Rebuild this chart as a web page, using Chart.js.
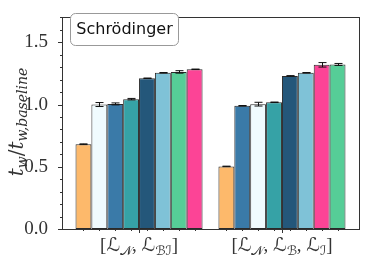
<!DOCTYPE html>
<html>
<head>
<meta charset="utf-8">
<script src="https://cdn.jsdelivr.net/npm/chart.js@4.4.1/dist/chart.umd.min.js"></script>
<style>
  html, body { margin: 0; padding: 0; background: #fff; }
  #wrap { width: 365px; height: 261px; }
</style>
</head>
<body>
<div id="wrap"><canvas id="grafica"></canvas></div>
<script>
// datos
var grupos = [0, 1];
var valoresG1 = [0.681, 1.000, 1.005, 1.043, 1.211, 1.255, 1.262, 1.283];
var valoresG2 = [0.503, 0.990, 1.003, 1.018, 1.230, 1.255, 1.319, 1.322];
var erroresG1 = [0.003, 0.016, 0.008, 0.006, 0.002, 0.002, 0.010, 0.002];
var erroresG2 = [0.002, 0.002, 0.015, 0.002, 0.002, 0.002, 0.018, 0.008];
var coloresG1 = ['#fdb96b', '#f0fbfe', '#3a7aa8', '#36a2a6', '#24577a', '#7fc2d7', '#56cd97', '#fc4496'];
var coloresG2 = ['#fdb96b', '#3a7aa8', '#f0fbfe', '#36a2a6', '#24577a', '#7fc2d7', '#fc4496', '#56cd97'];
var ticksY = [0, 0.5, 1.0, 1.5];
var nBarras = 8;
var anchoBarra = 1 / 9;

var datasets = [];
for (let k = 0; k < nBarras; k++) {
  datasets.push({
    data: [{x: grupos[0], y: valoresG1[k]}, {x: grupos[1], y: valoresG2[k]}],
    errores: [erroresG1[k], erroresG2[k]],
    backgroundColor: [coloresG1[k], coloresG2[k]],
    borderColor: '#2a2a2a',
    borderWidth: 1,
    borderSkipped: false
  });
}

// dibuja texto con subindices, partes = [{t, f, dy}]
function textoMath(ctx, partes, cx, cy) {
  let total = 0;
  partes.forEach(p => { ctx.font = p.f; p.w = ctx.measureText(p.t).width; total += p.w; });
  let x = cx - total / 2;
  ctx.textAlign = 'left';
  ctx.textBaseline = 'alphabetic';
  partes.forEach(p => { ctx.font = p.f; ctx.fillText(p.t, x, cy + (p.dy || 0)); x += p.w; });
}

var plugDecoracion = {
  id: 'decoracion',
  afterDatasetsDraw(chart) {
    const ctx = chart.ctx;
    const a = chart.chartArea;
    const sx = chart.scales.x, sy = chart.scales.y;
    ctx.save();
    // barras de error
    ctx.strokeStyle = '#111';
    ctx.lineWidth = 1;
    chart.data.datasets.forEach((ds, i) => {
      const meta = chart.getDatasetMeta(i);
      meta.data.forEach((bar, j) => {
        const v = ds.data[j].y, e = ds.errores[j];
        const x = Math.round(bar.x) + 0.5;
        const y1 = sy.getPixelForValue(v + e), y2 = sy.getPixelForValue(v - e);
        ctx.beginPath();
        ctx.moveTo(x, y1); ctx.lineTo(x, y2);
        ctx.moveTo(x - 4, y1); ctx.lineTo(x + 4, y1);
        ctx.moveTo(x - 4, y2); ctx.lineTo(x + 4, y2);
        ctx.stroke();
      });
    });
    // marco
    ctx.strokeStyle = '#333';
    ctx.strokeRect(Math.round(a.left) + 0.5, Math.round(a.top) + 0.5, Math.round(a.right - a.left), Math.round(a.bottom - a.top));
    // ticks eje y
    ctx.beginPath();
    for (let i = 0; i <= 17; i++) {
      const y = Math.round(sy.getPixelForValue(i / 10)) + 0.5;
      const largo = (i % 5 === 0) ? 4 : 2;
      ctx.moveTo(a.left, y); ctx.lineTo(a.left - largo, y);
    }
    // ticks eje x
    grupos.forEach(g => {
      const x = Math.round(sx.getPixelForValue(g)) + 0.5;
      ctx.moveTo(x, a.bottom); ctx.lineTo(x, a.bottom + 4);
      for (let k = 0; k < nBarras; k++) {
        const xm = Math.round(sx.getPixelForValue(g + (k - 3.5) * anchoBarra)) + 0.5;
        ctx.moveTo(xm, a.bottom); ctx.lineTo(xm, a.bottom + 2);
      }
    });
    ctx.stroke();
    // etiquetas eje x
    ctx.fillStyle = '#333';
    const fR = '19px "Liberation Serif"';
    const fS = '19px "DejaVu Sans"';
    const fSub = '13px "DejaVu Sans"';
    textoMath(ctx, [
      {t: '[', f: fR}, {t: 'ℒ', f: fS}, {t: '𝒩', f: fSub, dy: 4}, {t: ', ', f: fR},
      {t: 'ℒ', f: fS}, {t: 'ℬℐ', f: fSub, dy: 4}, {t: ']', f: fR}
    ], sx.getPixelForValue(0), 251);
    textoMath(ctx, [
      {t: '[', f: fR}, {t: 'ℒ', f: fS}, {t: '𝒩', f: fSub, dy: 4}, {t: ', ', f: fR},
      {t: 'ℒ', f: fS}, {t: 'ℬ', f: fSub, dy: 4}, {t: ', ', f: fR},
      {t: 'ℒ', f: fS}, {t: 'ℐ', f: fSub, dy: 4}, {t: ']', f: fR}
    ], sx.getPixelForValue(1), 251);
    // titulo eje y
    ctx.save();
    ctx.translate(23, 122);
    ctx.rotate(-Math.PI / 2);
    const fI = 'italic 20px "DejaVu Serif"';
    const fIs = 'italic 14px "DejaVu Serif"';
    textoMath(ctx, [
      {t: 't', f: fI}, {t: 'w', f: fIs, dy: 4}, {t: '/', f: '20px "DejaVu Serif"'},
      {t: 't', f: fI}, {t: 'w,baseline', f: fIs, dy: 4}
    ], 0, 0);
    ctx.restore();
    // cuadro de leyenda
    ctx.fillStyle = '#fff';
    ctx.strokeStyle = '#999';
    ctx.beginPath();
    ctx.roundRect(70.5, 13.5, 108, 32, 5);
    ctx.fill(); ctx.stroke();
    ctx.fillStyle = '#111';
    ctx.font = '16px "DejaVu Sans"';
    ctx.textAlign = 'center';
    ctx.textBaseline = 'middle';
    ctx.fillText('Schrödinger', 124.5, 30);
    ctx.restore();
  }
};

new Chart(document.getElementById('grafica'), {
  type: 'bar',
  data: { datasets: datasets },
  options: {
    responsive: true,
    maintainAspectRatio: false,
    animation: false,
    categoryPercentage: 8 / 9,
    barPercentage: 1,
    layout: { padding: { top: 6, right: 6, left: 0, bottom: 0 } },
    plugins: { legend: { display: false }, tooltip: { enabled: false } },
    scales: {
      x: {
        type: 'linear',
        min: -0.539,
        max: 1.539,
        offset: false,
        grid: { display: false },
        border: { display: false },
        ticks: { display: false },
        afterBuildTicks: s => { s.ticks = grupos.map(g => ({value: g})); },
        afterFit: s => { s.height = 32; }
      },
      y: {
        min: 0,
        max: 1.7,
        grid: { display: false },
        border: { display: false },
        afterBuildTicks: s => { s.ticks = ticksY.map(v => ({value: v})); },
        ticks: {
          padding: 6,
          color: '#333',
          font: { family: 'Liberation Serif', size: 19 },
          callback: v => Number(v).toFixed(1)
        },
        afterFit: s => { s.width = 62; }
      }
    }
  },
  plugins: [plugDecoracion]
});
</script>
</body>
</html>
